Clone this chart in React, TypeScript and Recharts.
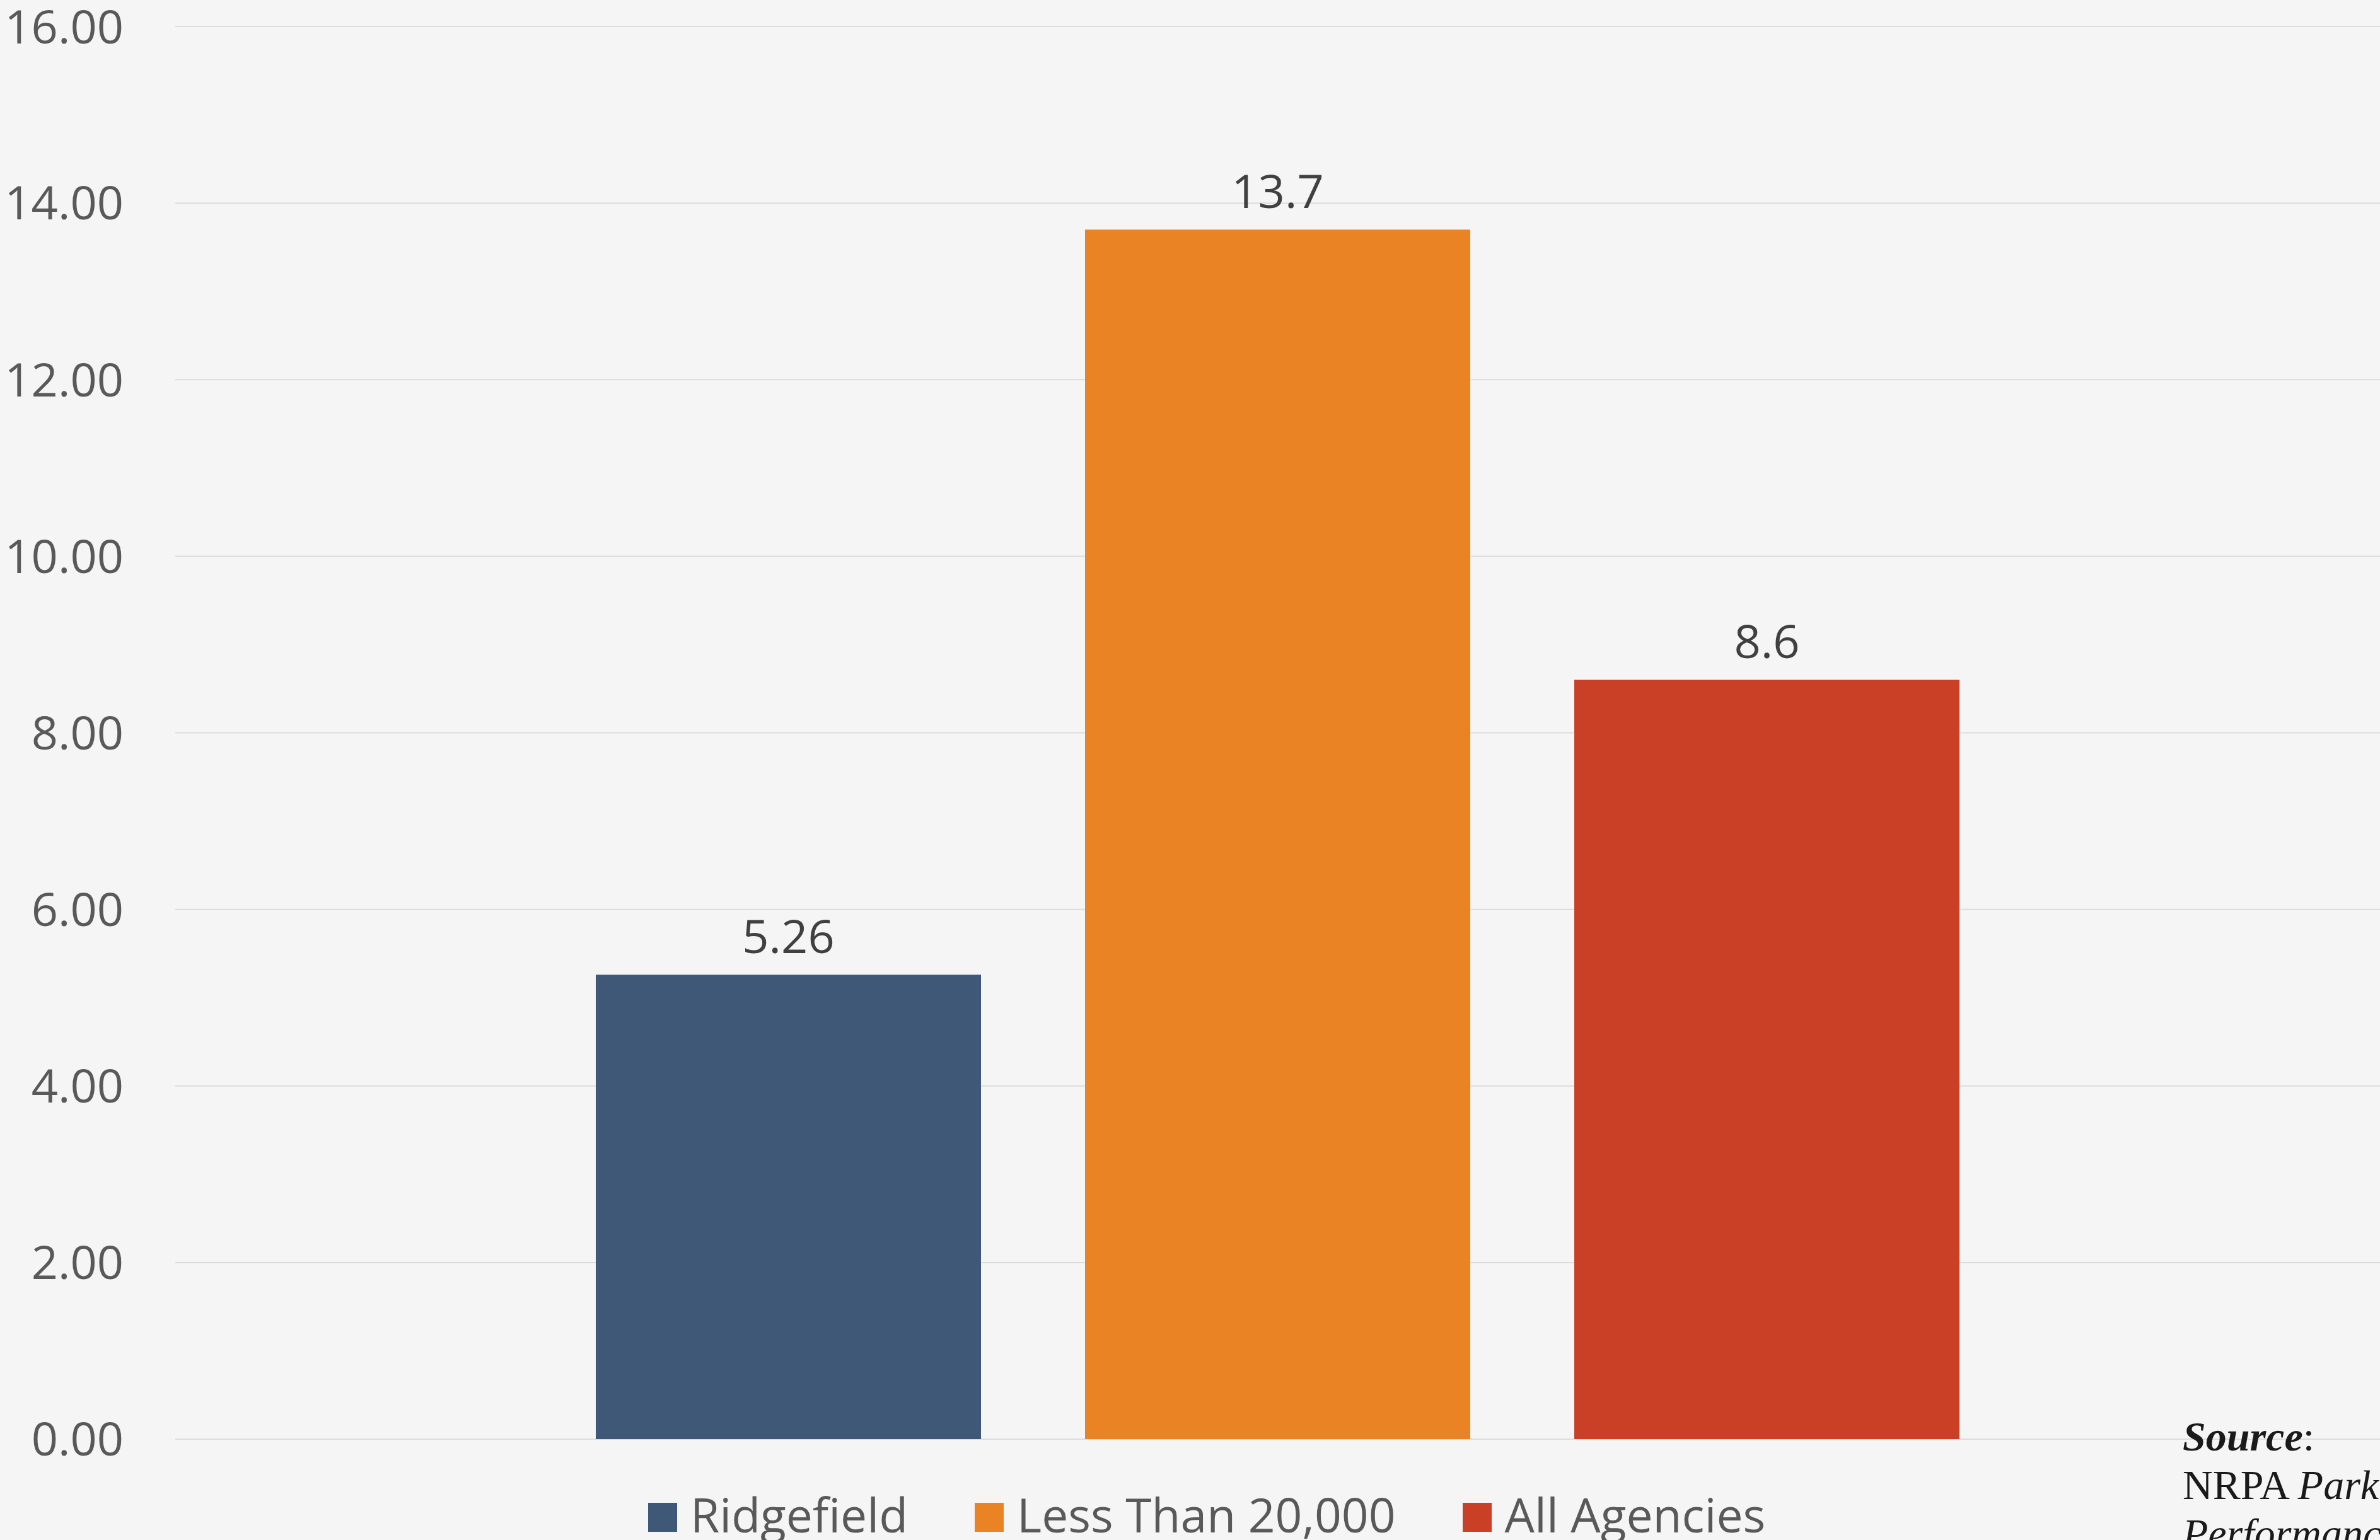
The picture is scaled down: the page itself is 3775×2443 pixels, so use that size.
import { Bar, BarChart, CartesianGrid, LabelList, XAxis, YAxis } from "recharts";

const categories = ["Acres of Parkland per 1,000 Residents"];
const seriesNames = ["Ridgefield", "Less Than 20,000", "All Agencies"];
const seriesValues = [5.26, 13.7, 8.6];
const yTicks = [0, 2, 4, 6, 8, 10, 12, 14, 16];

const COLORS = ["#3f5877", "#e98324", "#c94027"];

const data = categories.map((name) => {
  const row: Record<string, string | number> = { name };
  seriesNames.forEach((s, i) => {
    row[s] = seriesValues[i];
  });
  return row;
});

const FONT = "'Open Sans', sans-serif";

const App = () => {
  return (
    <div
      style={{
        position: "absolute",
        left: 0,
        top: 0,
        width: 3775,
        height: 2443,
        background: "#f5f5f5",
        overflow: "hidden",
        fontFamily: FONT,
      }}
    >
      <BarChart
        width={3775}
        height={2443}
        data={data}
        margin={{ top: 42, right: 0, bottom: 160, left: 0 }}
        barGap={165}
      >
        <CartesianGrid vertical={false} stroke="#dcdcdc" strokeWidth={2} />
        <XAxis dataKey="name" hide />
        <YAxis
          width={278}
          domain={[0, 16]}
          ticks={yTicks}
          axisLine={false}
          tickLine={false}
          tickSize={0}
          tickMargin={82}
          tickFormatter={(v: number) => v.toFixed(2)}
          tick={{ fill: "#595959", fontSize: 74, fontFamily: FONT }}
        />
        {seriesNames.map((s, i) => (
          <Bar
            key={s}
            dataKey={s}
            fill={COLORS[i]}
            barSize={611}
            isAnimationActive={false}
          >
            <LabelList
              dataKey={s}
              position="top"
              offset={34}
              fill="#404040"
              fontSize={74}
              fontFamily={FONT}
            />
          </Bar>
        ))}
      </BarChart>

      <div
        style={{
          position: "absolute",
          left: 1028,
          top: 2365,
          display: "flex",
          alignItems: "flex-start",
          whiteSpace: "nowrap",
        }}
      >
        {seriesNames.map((s, i) => (
          <div
            key={s}
            style={{
              display: "flex",
              alignItems: "flex-start",
              marginRight: i < seriesNames.length - 1 ? 106 : 0,
            }}
          >
            <div
              style={{
                width: 46,
                height: 46,
                marginTop: 19,
                marginRight: 21,
                background: COLORS[i],
              }}
            />
            <span
              style={{
                fontSize: 75,
                lineHeight: "74px",
                color: "#595959",
                fontFamily: FONT,
              }}
            >
              {s}
            </span>
          </div>
        ))}
      </div>

      <div
        style={{
          position: "absolute",
          left: 3462,
          top: 2240,
          width: 320,
          fontFamily: "'Liberation Serif', serif",
          fontSize: 66,
          lineHeight: "77px",
          color: "#1a1a1a",
        }}
      >
        <div>
          <b>
            <i>Source</i>
          </b>
          :
        </div>
        <div>
          NRPA <i>Park</i>
        </div>
        <div>
          <i>Performance Review</i>
        </div>
      </div>
    </div>
  );
};

export default App;
